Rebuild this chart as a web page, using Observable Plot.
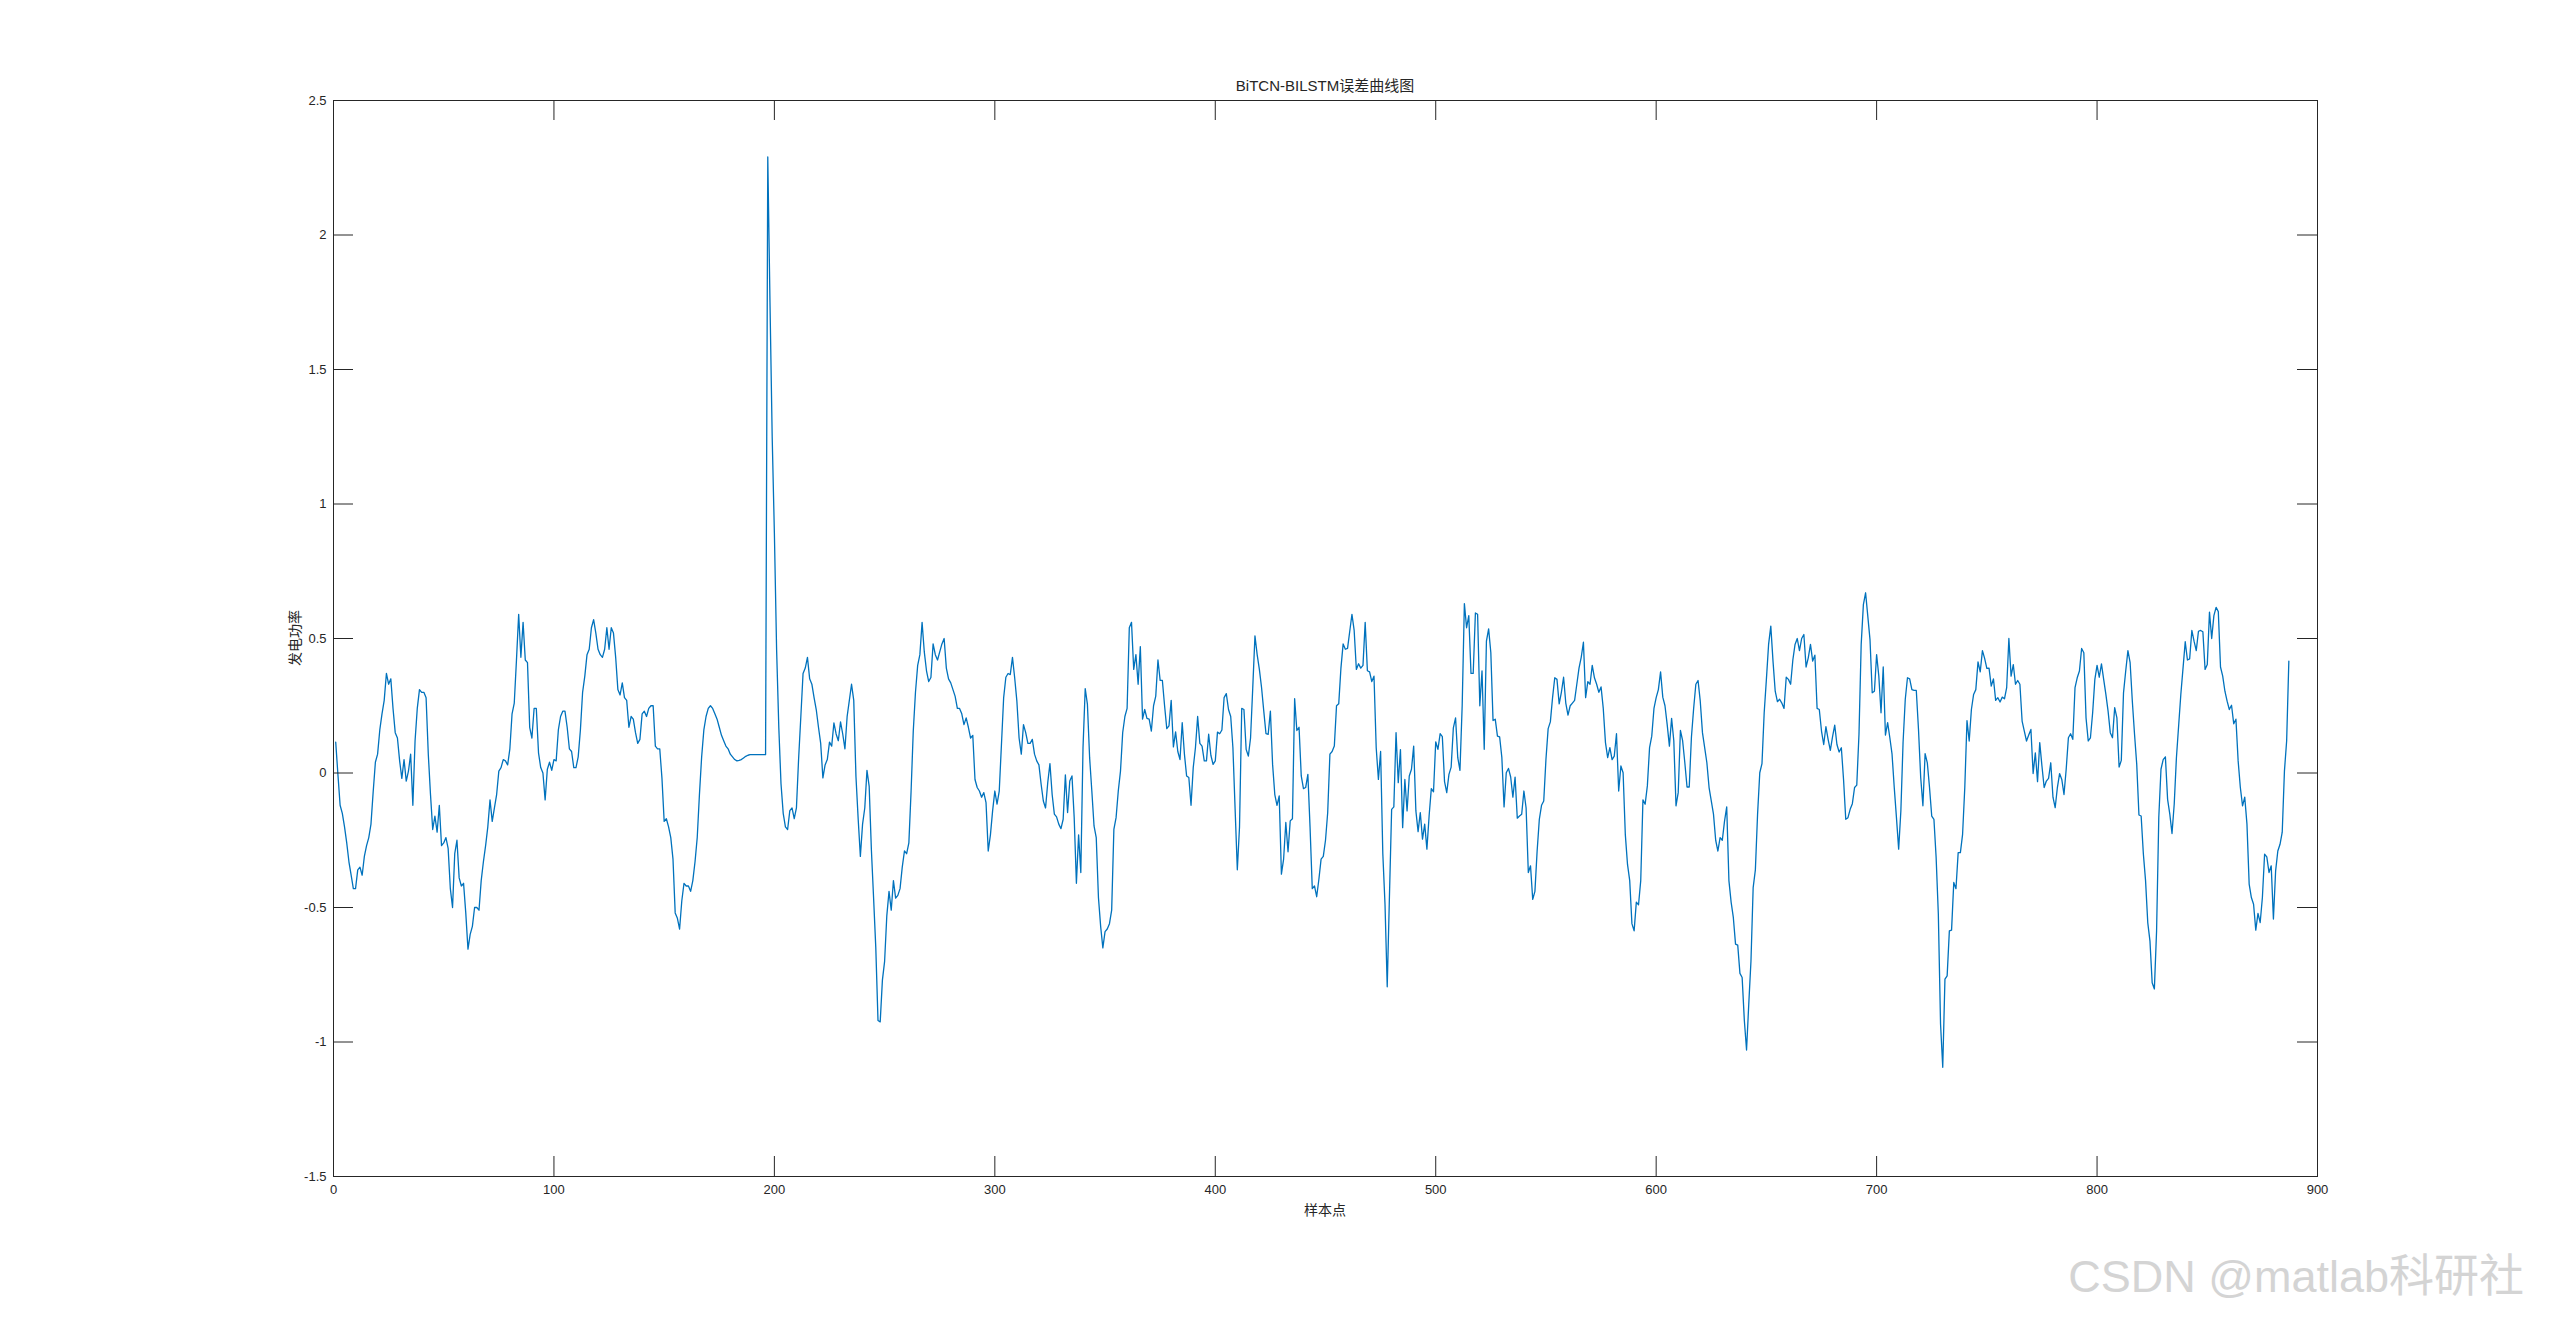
<!DOCTYPE html>
<html>
<head>
<meta charset="utf-8">
<script src="https://cdn.jsdelivr.net/npm/d3@7"></script>
<script src="https://cdn.jsdelivr.net/npm/@observablehq/plot@0.6"></script>
<style>
  html, body { margin: 0; padding: 0; background: #ffffff; }
  #wrap { position: relative; width: 2560px; height: 1322px; overflow: hidden; background: #fff; }
  .lbl { position: absolute; color: #262626; white-space: nowrap; }
  #title { left: 333px; width: 1984px; top: 78px; text-align: center; font: 15px "Liberation Sans", "Noto Sans CJK SC", sans-serif; line-height: 15px; }
  #xlabel { left: 333px; width: 1984px; top: 1202px; text-align: center; font: 14px "Noto Sans CJK SC", sans-serif; line-height: 14px; }
  #ylabel { left: 294px; top: 638px; transform: translate(-50%, -50%) rotate(-90deg); font: 14px "Noto Sans CJK SC", sans-serif; line-height: 14px; }
  #wm { right: 36px; top: 1254px; font: 45px "Liberation Sans", "Noto Sans CJK SC", sans-serif; line-height: 46px; color: #d4d4d4; }
</style>
</head>
<body>
<div id="wrap">
  <div id="chart"></div>
  <div class="lbl" id="title">BiTCN-BILSTM误差曲线图</div>
  <div class="lbl" id="xlabel">样本点</div>
  <div class="lbl" id="ylabel">发电功率</div>
  <div class="lbl" id="wm">CSDN @matlab科研社</div>
</div>
<script>
// Tick values
const xTicks = [0, 100, 200, 300, 400, 500, 600, 700, 800, 900];
const yTicks = [-1.5, -1, -0.5, 0, 0.5, 1, 1.5, 2, 2.5];

// Error series, samples 1..887
const err001_089 = [0.115,-0.005,-0.12,-0.15,-0.20,-0.26,-0.33,-0.38,-0.43,-0.43,
-0.36,-0.35,-0.38,-0.31,-0.27,-0.24,-0.19,-0.07,0.04,0.07,
0.16,0.22,0.27,0.37,0.33,0.35,0.24,0.15,0.13,0.045,
-0.02,0.05,-0.03,0.007,0.07,-0.12,0.12,0.24,0.31,0.30,
0.30,0.28,0.07,-0.08,-0.21,-0.16,-0.22,-0.12,-0.27,-0.26,
-0.24,-0.28,-0.43,-0.50,-0.30,-0.25,-0.39,-0.42,-0.41,-0.52,
-0.655,-0.60,-0.57,-0.50,-0.50,-0.51,-0.40,-0.33,-0.27,-0.20,
-0.10,-0.18,-0.13,-0.08,0.007,0.02,0.05,0.045,0.03,0.09,
0.22,0.26,0.42,0.59,0.43,0.56,0.42,0.41,0.17];

const err090_180 = [0.13,0.24,0.24,0.075,0.02,0.00,-0.10,0.014,0.04,0.01,
0.05,0.045,0.16,0.21,0.23,0.23,0.17,0.09,0.08,0.02,
0.02,0.06,0.16,0.30,0.36,0.44,0.46,0.54,0.57,0.52,
0.46,0.44,0.43,0.46,0.54,0.46,0.54,0.52,0.43,0.31,
0.29,0.335,0.28,0.27,0.17,0.21,0.20,0.15,0.11,0.125,
0.22,0.23,0.21,0.24,0.25,0.25,0.10,0.09,0.09,-0.02,
-0.18,-0.17,-0.20,-0.24,-0.32,-0.52,-0.54,-0.58,-0.475,-0.41,
-0.42,-0.42,-0.44,-0.40,-0.33,-0.24,-0.08,0.06,0.16,0.21,
0.24,0.25,0.24,0.22,0.20,0.17,0.14,0.12,0.10,0.09,0.07];

const err181_271 = [0.06,0.05,0.045,0.047,0.05,0.056,0.062,0.066,0.068,0.068,
0.068,0.068,0.068,0.068,0.068,0.068,2.29,1.75,1.25,0.89,
0.46,0.17,-0.04,-0.15,-0.20,-0.21,-0.14,-0.13,-0.17,-0.13,
0.055,0.21,0.37,0.39,0.43,0.35,0.33,0.28,0.235,0.17,
0.11,-0.018,0.03,0.05,0.115,0.10,0.186,0.145,0.12,0.19,
0.145,0.09,0.21,0.27,0.33,0.27,-0.013,-0.17,-0.31,-0.19,
-0.13,0.01,-0.05,-0.285,-0.465,-0.65,-0.92,-0.925,-0.77,-0.70,
-0.53,-0.44,-0.51,-0.40,-0.465,-0.455,-0.43,-0.35,-0.29,-0.30,
-0.26,-0.07,0.156,0.30,0.40,0.44,0.56,0.45,0.38,0.34,0.355];

const err272_362 = [0.48,0.44,0.42,0.45,0.48,0.50,0.39,0.35,0.335,0.31,
0.285,0.24,0.24,0.22,0.18,0.205,0.17,0.13,0.14,-0.024,
-0.054,-0.067,-0.09,-0.073,-0.11,-0.29,-0.23,-0.14,-0.067,-0.116,
-0.067,0.106,0.28,0.356,0.37,0.366,0.43,0.354,0.267,0.13,
0.07,0.18,0.15,0.11,0.11,0.125,0.07,0.045,0.03,-0.042,
-0.104,-0.13,-0.036,0.035,-0.08,-0.153,-0.163,-0.19,-0.207,-0.172,
-0.007,-0.147,-0.03,-0.011,-0.166,-0.41,-0.23,-0.37,0.094,0.314,
0.255,0.057,-0.067,-0.197,-0.24,-0.463,-0.57,-0.65,-0.59,-0.58,
-0.56,-0.51,-0.21,-0.166,-0.067,0.007,0.15,0.21,0.24,0.54,0.56];

const err363_453 = [0.385,0.44,0.33,0.47,0.20,0.236,0.203,0.20,0.156,0.25,
0.286,0.42,0.344,0.344,0.25,0.165,0.175,0.27,0.097,0.153,
0.08,0.05,0.187,0.07,-0.011,-0.017,-0.12,0.02,0.094,0.21,
0.11,0.10,0.045,0.045,0.144,0.066,0.032,0.045,0.152,0.146,
0.16,0.28,0.295,0.236,0.21,0.094,-0.135,-0.36,-0.20,0.24,
0.236,0.088,0.063,0.13,0.317,0.51,0.44,0.385,0.317,0.23,
0.146,0.144,0.23,0.032,-0.08,-0.12,-0.085,-0.376,-0.32,-0.184,
-0.293,-0.178,-0.17,0.276,0.158,0.17,-0.011,-0.058,-0.054,-0.005,
-0.203,-0.43,-0.42,-0.46,-0.395,-0.32,-0.31,-0.25,-0.147,0.07,0.08];

const err454_544 = [0.10,0.25,0.257,0.39,0.48,0.46,0.463,0.527,0.59,0.53,
0.385,0.406,0.39,0.40,0.56,0.38,0.376,0.34,0.36,0.094,
-0.024,0.08,-0.30,-0.49,-0.795,-0.46,-0.135,-0.126,0.15,-0.036,
0.087,-0.203,-0.024,-0.141,-0.011,0.014,0.10,-0.141,-0.218,-0.147,
-0.246,-0.19,-0.283,-0.16,-0.058,-0.07,0.116,0.088,0.146,0.135,
-0.032,-0.073,-0.005,0.022,0.168,0.205,0.057,0.01,0.25,0.63,
0.54,0.585,0.37,0.37,0.595,0.59,0.25,0.38,0.088,0.49,
0.536,0.447,0.195,0.20,0.137,0.134,0.057,-0.126,0.001,0.017,
-0.015,-0.09,-0.015,-0.168,-0.16,-0.153,-0.067,-0.13,-0.37,-0.345,-0.47];

const err545_635 = [-0.44,-0.29,-0.172,-0.12,-0.104,0.05,0.165,0.19,0.28,0.354,
0.348,0.257,0.30,0.356,0.26,0.215,0.25,0.26,0.27,0.33,
0.39,0.43,0.486,0.28,0.34,0.33,0.40,0.354,0.33,0.30,
0.32,0.24,0.113,0.057,0.094,0.05,0.063,0.146,-0.067,0.026,
0.001,-0.228,-0.34,-0.40,-0.56,-0.587,-0.48,-0.49,-0.40,-0.10,
-0.116,-0.048,0.094,0.137,0.24,0.28,0.31,0.376,0.282,0.25,
0.18,0.10,0.203,0.12,-0.122,-0.073,0.158,0.12,0.038,-0.052,
-0.052,0.134,0.24,0.33,0.344,0.267,0.15,0.094,0.038,-0.054,
-0.104,-0.153,-0.25,-0.29,-0.24,-0.25,-0.18,-0.126,-0.40,-0.48,-0.537];

const err636_725 = [-0.636,-0.64,-0.745,-0.76,-0.92,-1.03,-0.86,-0.70,-0.426,-0.36,
-0.153,0.001,0.035,0.224,0.348,0.478,0.546,0.416,0.304,0.265,
0.274,0.26,0.24,0.356,0.348,0.33,0.42,0.478,0.50,0.455,
0.50,0.515,0.394,0.428,0.478,0.416,0.438,0.24,0.236,0.156,
0.106,0.172,0.125,0.084,0.134,0.178,0.106,0.078,0.094,-0.024,
-0.172,-0.166,-0.135,-0.114,-0.054,-0.045,0.144,0.478,0.626,0.67,
0.583,0.496,0.298,0.304,0.44,0.36,0.224,0.394,0.141,0.187,
0.131,0.07,-0.054,-0.166,-0.283,-0.141,0.113,0.274,0.354,0.35,
0.31,0.307,0.307,0.162,-0.017,-0.122,0.072,0.038,-0.054,-0.16];

const err726_806 = [-0.172,-0.314,-0.525,-0.933,-1.094,-0.766,-0.754,-0.587,-0.584,-0.407,
-0.43,-0.296,-0.296,-0.228,-0.054,0.195,0.119,0.236,0.292,0.31,
0.413,0.376,0.455,0.426,0.389,0.39,0.323,0.35,0.27,0.28,
0.264,0.282,0.276,0.317,0.50,0.36,0.403,0.33,0.344,0.33,
0.193,0.156,0.119,0.141,0.162,-0.002,0.075,-0.032,0.113,0.026,
-0.054,-0.03,-0.02,0.038,-0.09,-0.129,-0.054,-0.002,-0.024,-0.08,
0.014,0.131,0.146,0.125,0.317,0.354,0.379,0.463,0.447,0.205,
0.119,0.131,0.224,0.348,0.40,0.356,0.406,0.348,0.292,0.23,0.15];

const err807_887 = [0.131,0.243,0.205,0.022,0.047,0.298,0.379,0.455,0.41,0.267,
0.144,0.032,-0.156,-0.16,-0.30,-0.40,-0.556,-0.625,-0.78,-0.803,
-0.587,-0.166,0.014,0.05,0.06,-0.098,-0.153,-0.225,-0.116,0.057,
0.175,0.292,0.39,0.488,0.42,0.424,0.53,0.49,0.455,0.527,
0.53,0.525,0.385,0.403,0.598,0.50,0.585,0.616,0.60,0.394,
0.36,0.304,0.267,0.236,0.252,0.183,0.20,0.045,-0.054,-0.122,
-0.09,-0.19,-0.413,-0.463,-0.488,-0.584,-0.522,-0.556,-0.463,-0.302,
-0.312,-0.37,-0.345,-0.543,-0.364,-0.29,-0.265,-0.22,0.007,0.119,0.416];

const errors = [].concat(err001_089, err090_180, err181_271, err272_362, err363_453,
  err454_544, err545_635, err636_725, err726_806, err807_887);
const series = errors.map((v, i) => ({sample: i + 1, err: v}));

const W = 2560, H = 1322;
const mL = 333, mR = 243, mT = 100, mB = 146;
const fw = W - mL - mR, fh = H - mT - mB, tick = 20;
const axisColor = "#262626";
const fmt = d => String(d);

const chart = Plot.plot({
  width: W, height: H,
  marginLeft: mL, marginRight: mR, marginTop: mT, marginBottom: mB,
  x: {domain: [0, 900]},
  y: {domain: [-1.5, 2.5]},
  style: {fontFamily: '"Liberation Sans", Arial, sans-serif', fontSize: "13px", color: axisColor, background: "#ffffff"},
  marks: [
    Plot.line(series, {x: "sample", y: "err", stroke: "#0072BD", strokeWidth: 1.3}),
    Plot.ruleX(xTicks, {x: d => d, stroke: axisColor, insetTop: fh - tick}),
    Plot.ruleX(xTicks, {x: d => d, stroke: axisColor, insetBottom: fh - tick}),
    Plot.ruleY(yTicks, {y: d => d, stroke: axisColor, insetRight: fw - tick}),
    Plot.ruleY(yTicks, {y: d => d, stroke: axisColor, insetLeft: fw - tick}),
    Plot.frame({stroke: axisColor, strokeWidth: 1}),
    Plot.axisX(xTicks, {tickSize: 0, tickPadding: 8, label: null, tickFormat: fmt, fill: axisColor}),
    Plot.axisY(yTicks, {tickSize: 0, tickPadding: 7, label: null, tickFormat: fmt, fill: axisColor})
  ]
});
document.getElementById("chart").appendChild(chart);
</script>
</body>
</html>
